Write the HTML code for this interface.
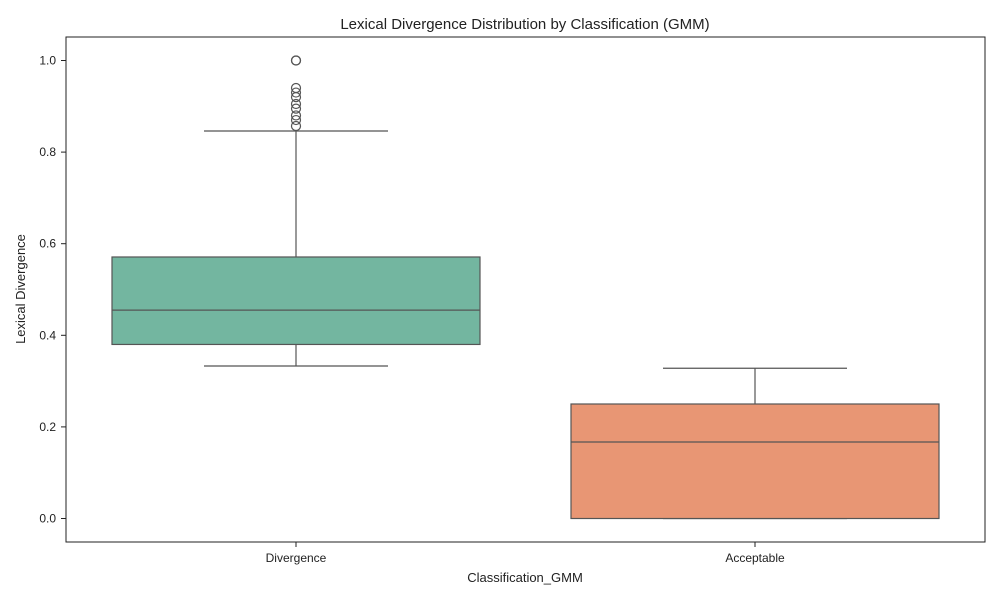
<!DOCTYPE html>
<html><head><meta charset="utf-8"><style>
body{margin:0;background:#fff;font-family:"Liberation Sans","DejaVu Sans",sans-serif}
</style></head><body>
<svg id="chart" width="1000" height="600" xmlns="http://www.w3.org/2000/svg">
<text x="525" y="29" text-anchor="middle" font-size="15" fill="#222">Lexical Divergence Distribution by Classification (GMM)</text>
<rect x="66" y="37" width="919" height="505" fill="none" stroke="#222" stroke-width="1"/>
<g id="yaxis"></g>
<g id="xaxis"></g>
<g id="boxes"></g>
<text x="525" y="582" text-anchor="middle" font-size="13" fill="#222">Classification_GMM</text>
<text transform="translate(25,289) rotate(-90)" text-anchor="middle" font-size="13" fill="#222">Lexical Divergence</text>
</svg>
<script>
const categories=["Divergence","Acceptable"];
const q1=[0.38,0.0];
const medians=[0.455,0.167];
const q3=[0.571,0.25];
const whiskerLow=[0.333,0.0];
const whiskerHigh=[0.846,0.328];
const outliersDiv=[1.0,1.0,0.94,0.93,0.92,0.905,0.895,0.88,0.87,0.857];
const outliers=[outliersDiv,[]];
const colors=["#73b6a0","#e89674"];
const yTicks=[0.0,0.2,0.4,0.6,0.8,1.0];
const NS="http://www.w3.org/2000/svg";
const y=v=>518.5-v*458;
const x=i=>296+i*459;
function mk(t,a,p){const e=document.createElementNS(NS,t);for(const k in a)e.setAttribute(k,a[k]);p.appendChild(e);return e;}
const ya=document.getElementById('yaxis'),xa=document.getElementById('xaxis'),bx=document.getElementById('boxes');
yTicks.forEach(v=>{
 const l=mk('line',{x1:61,x2:66,y1:y(v),y2:y(v),stroke:'#222'},ya);
 
 
 const t=mk('text',{x:56,y:y(v)+4,'text-anchor':'end','font-size':12,fill:'#222'},ya);
 t.textContent=v.toFixed(1);
 
 
});
categories.forEach((c,i)=>{
 const cx=x(i);
 const l=mk('line',{x1:cx,x2:cx,y1:542,y2:547,stroke:'#222'},xa);
 
 
 const t=mk('text',{x:cx,y:562,'text-anchor':'middle','font-size':12,fill:'#222'},xa);
 t.textContent=c;
 
 
 const g=mk('g',{},bx);
 
 
 const s={stroke:'#555','stroke-width':1.2};
 mk('line',{x1:cx,x2:cx,y1:y(q3[i]),y2:y(whiskerHigh[i]),...s},g);
 mk('line',{x1:cx,x2:cx,y1:y(q1[i]),y2:y(whiskerLow[i]),...s},g);
 mk('line',{x1:cx-92,x2:cx+92,y1:y(whiskerHigh[i]),y2:y(whiskerHigh[i]),...s},g);
 mk('line',{x1:cx-92,x2:cx+92,y1:y(whiskerLow[i]),y2:y(whiskerLow[i]),...s},g);
 mk('rect',{x:cx-184,width:368,y:y(q3[i]),height:y(q1[i])-y(q3[i]),fill:colors[i],...s},g);
 mk('line',{x1:cx-184,x2:cx+184,y1:y(medians[i]),y2:y(medians[i]),...s},g);
 outliers[i].forEach(v=>{
  const o=mk('circle',{cx:cx,cy:y(v),r:4.5,fill:'none',stroke:'#555','stroke-width':1.2},g);
  
  
 });
});
</script>
</body></html>
